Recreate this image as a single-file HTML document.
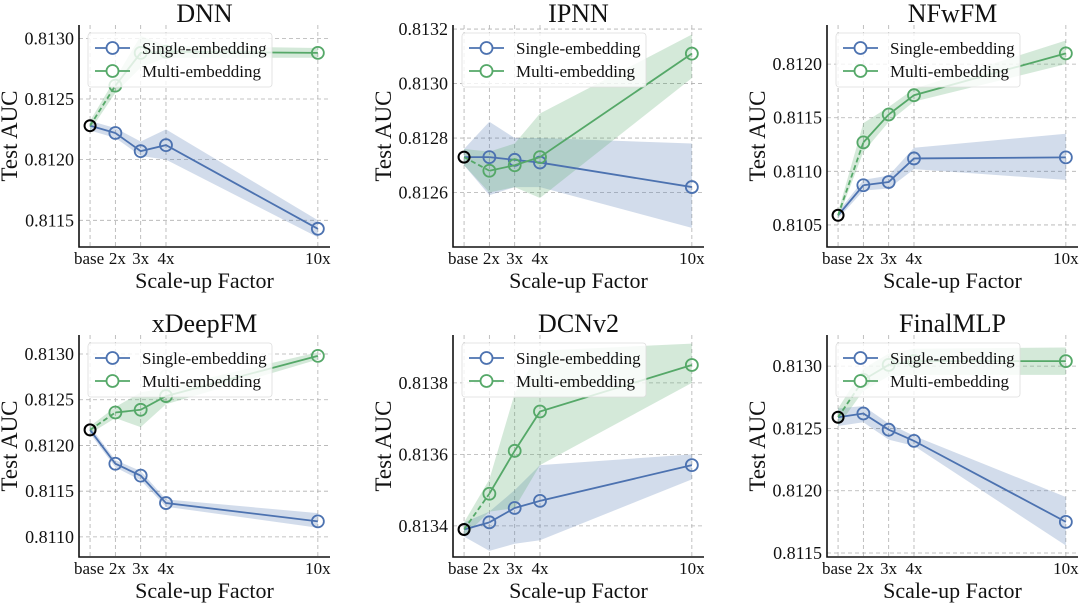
<!DOCTYPE html>
<html><head><meta charset="utf-8"><style>
body{margin:0;background:#fff}
svg text{font-family:"Liberation Serif",serif;fill:#111}
</style></head><body>
<svg id="c" width="1080" height="605" xmlns="http://www.w3.org/2000/svg"></svg>
<script>
const categories=["base","2x","3x","4x","10x"];
const xValues=[1,2,3,4,10];
const titles=["DNN","IPNN","NFwFM","xDeepFM","DCNv2","FinalMLP"];
const singleDNN=[0.81228,0.81222,0.81207,0.81212,0.81143];
const singleDNNLo=[0.81224,0.81218,0.81203,0.81200,0.81136];
const singleDNNHi=[0.81232,0.81226,0.81215,0.81225,0.81150];
const multiDNN=[0.81228,0.81261,0.81288,0.81289,0.81288];
const multiDNNLo=[0.81224,0.81255,0.81276,0.81284,0.81284];
const multiDNNHi=[0.81232,0.81267,0.81302,0.81294,0.81292];
const singleIPNN=[0.81273,0.81273,0.81272,0.81271,0.81262];
const singleIPNNLo=[0.81270,0.81259,0.81262,0.81262,0.81247];
const singleIPNNHi=[0.81276,0.81286,0.81280,0.81280,0.81278];
const multiIPNN=[0.81273,0.81268,0.81270,0.81273,0.81311];
const multiIPNNLo=[0.81270,0.81260,0.81262,0.81258,0.81302];
const multiIPNNHi=[0.81276,0.81275,0.81278,0.81289,0.81318];
const singleNFwFM=[0.81059,0.81087,0.81090,0.81112,0.81113];
const singleNFwFMLo=[0.81056,0.81082,0.81084,0.81102,0.81092];
const singleNFwFMHi=[0.81062,0.81092,0.81096,0.81122,0.81135];
const multiNFwFM=[0.81059,0.81127,0.81153,0.81171,0.81210];
const multiNFwFMLo=[0.81056,0.81118,0.81146,0.81165,0.81200];
const multiNFwFMHi=[0.81062,0.81145,0.81160,0.81177,0.81222];
const singleXDeepFM=[0.81217,0.81180,0.81167,0.81137,0.81117];
const singleXDeepFMLo=[0.81213,0.81176,0.81162,0.81133,0.81110];
const singleXDeepFMHi=[0.81221,0.81184,0.81172,0.81141,0.81126];
const multiXDeepFM=[0.81217,0.81236,0.81239,0.81254,0.81298];
const multiXDeepFMLo=[0.81213,0.81230,0.81220,0.81245,0.81294];
const multiXDeepFMHi=[0.81221,0.81242,0.81258,0.81263,0.81302];
const singleDCNv2=[0.81339,0.81341,0.81345,0.81347,0.81357];
const singleDCNv2Lo=[0.81337,0.81333,0.81335,0.81336,0.81353];
const singleDCNv2Hi=[0.81341,0.81344,0.81350,0.81357,0.81360];
const multiDCNv2=[0.81339,0.81349,0.81361,0.81372,0.81385];
const multiDCNv2Lo=[0.81337,0.81344,0.81345,0.81357,0.81380];
const multiDCNv2Hi=[0.81341,0.81353,0.81377,0.81389,0.81391];
const singleFinalMLP=[0.81259,0.81262,0.81249,0.81240,0.81175];
const singleFinalMLPLo=[0.81252,0.81255,0.81241,0.81236,0.81156];
const singleFinalMLPHi=[0.81266,0.81268,0.81254,0.81244,0.81195];
const multiFinalMLP=[0.81259,0.81289,0.81301,0.81304,0.81304];
const multiFinalMLPLo=[0.81252,0.81280,0.81292,0.81293,0.81293];
const multiFinalMLPHi=[0.81266,0.81298,0.81310,0.81314,0.81315];
const ticksDNN=[0.8115,0.8120,0.8125,0.8130];
const ticksIPNN=[0.8126,0.8128,0.8130,0.8132];
const ticksNFwFM=[0.8105,0.8110,0.8115,0.8120];
const ticksXDeepFM=[0.8110,0.8115,0.8120,0.8125,0.8130];
const ticksDCNv2=[0.8134,0.8136,0.8138];
const ticksFinalMLP=[0.8115,0.8120,0.8125,0.8130];
const ylims=[[0.81128,0.81311],[0.81240,0.813215],[0.810294,0.812365],[0.81078,0.813208],[0.813313,0.813934],[0.811468,0.81325]];

const panels=[
 [singleDNN,singleDNNLo,singleDNNHi,multiDNN,multiDNNLo,multiDNNHi,ticksDNN],
 [singleIPNN,singleIPNNLo,singleIPNNHi,multiIPNN,multiIPNNLo,multiIPNNHi,ticksIPNN],
 [singleNFwFM,singleNFwFMLo,singleNFwFMHi,multiNFwFM,multiNFwFMLo,multiNFwFMHi,ticksNFwFM],
 [singleXDeepFM,singleXDeepFMLo,singleXDeepFMHi,multiXDeepFM,multiXDeepFMLo,multiXDeepFMHi,ticksXDeepFM],
 [singleDCNv2,singleDCNv2Lo,singleDCNv2Hi,multiDCNv2,multiDCNv2Lo,multiDCNv2Hi,ticksDCNv2],
 [singleFinalMLP,singleFinalMLPLo,singleFinalMLPHi,multiFinalMLP,multiFinalMLPLo,multiFinalMLPHi,ticksFinalMLP]
];
const svg=document.getElementById('c');
const NS='http://www.w3.org/2000/svg';
function mk(tag,attrs,parent,text){const e=document.createElementNS(NS,tag);for(const k in attrs)e.setAttribute(k,attrs[k]);if(text!==undefined)e.textContent=text;parent.appendChild(e);return e;}
const BLUE='#4c72b0',GREEN='#55a868';
const spineX=[79,453,827];
const rowTop=[25,335],rowBot=[247,557];
panels.forEach((p,i)=>{
 const col=i%3,row=Math.floor(i/3);
 const L=spineX[col],T=rowTop[row],B=rowBot[row],R=L+251;
 const xmin=0.563,xmax=10.48;
 const xs=v=>L+(v-xmin)/(xmax-xmin)*(R-L);
 const [ylo,yhi]=ylims[i];
 const ys=v=>B-(v-ylo)/(yhi-ylo)*(B-T);
 const g=mk('g',{},svg);
 
 
 xValues.forEach((v,k)=>{
  const l=mk('line',{x1:xs(v),x2:xs(v),y1:T,y2:B,stroke:'#b0b0b0','stroke-dasharray':'4,3','stroke-width':0.8},g);
  
  const t=mk('text',{x:xs(v)+(k===0?-1:(k===1?2:0)),y:B+17,'text-anchor':'middle','font-size':17},g,categories[k]);
  
 });
 p[6].forEach(v=>{
  const l=mk('line',{x1:L,x2:R,y1:ys(v),y2:ys(v),stroke:'#b0b0b0','stroke-dasharray':'4,3','stroke-width':0.8},g);
  
  const t=mk('text',{x:L-5,y:ys(v)+6,'text-anchor':'end','font-size':18},g,v.toFixed(4));
  
 });
 [[0,1,2,BLUE,'single'],[3,4,5,GREEN,'multi']].forEach(([a,lo,hi,c,nm])=>{
  let d='';
  xValues.forEach((v,k)=>{d+=(k?'L':'M')+xs(v)+','+ys(p[hi][k]);});
  for(let k=xValues.length-1;k>=0;k--)d+='L'+xs(xValues[k])+','+ys(p[lo][k]);
  const band=mk('path',{d:d+'Z',fill:c,'fill-opacity':0.25,stroke:'none'},g);
  
 });
 [[0,BLUE,'single'],[3,GREEN,'multi']].forEach(([a,c,nm])=>{
  const s=p[a];
  const first=mk('line',{x1:xs(xValues[0]),y1:ys(s[0]),x2:xs(xValues[1]),y2:ys(s[1]),stroke:c,'stroke-width':1.8,'stroke-dasharray':nm==='multi'?'5,3':'none'},g);
  
  let d='';
  for(let k=1;k<xValues.length;k++)d+=(k>1?'L':'M')+xs(xValues[k])+','+ys(s[k]);
  const ln=mk('path',{d:d,fill:'none',stroke:c,'stroke-width':1.8},g);
  
  for(let k=1;k<xValues.length;k++){
   const m=mk('circle',{cx:xs(xValues[k]),cy:ys(s[k]),r:6,fill:'none',stroke:c,'stroke-width':1.8},g);
   
  }
 });
 const bm=mk('circle',{cx:xs(xValues[0]),cy:ys(p[0][0]),r:5.5,fill:'none',stroke:'#000','stroke-width':2},g);
 
 const sp=mk('path',{d:`M${L},${T}V${B}H${R}`,fill:'none',stroke:'#111','stroke-width':1.6},g);
 
 const lg=mk('g',{},g);
 
 mk('rect',{x:L+9,y:T+8,width:184,height:54,rx:3,fill:'#fff','fill-opacity':0.8,stroke:'#ddd','stroke-width':0.8},lg);
 [['Single-embedding',BLUE],['Multi-embedding',GREEN]].forEach(([lab,c],k)=>{
  const y=T+23+k*23;
  const e=mk('g',{},lg);
  
  mk('line',{x1:L+16,x2:L+51,y1:y,y2:y,stroke:c,'stroke-width':1.8},e);
  mk('circle',{cx:L+33.5,cy:y,r:6,fill:'#fff',stroke:c,'stroke-width':1.8},e);
  mk('text',{x:L+63,y:y+6,'font-size':17},e,lab);
 });
 const tt=mk('text',{x:(L+R)/2,y:T-3,'text-anchor':'middle','font-size':26},g,titles[i]);
 
 const xl=mk('text',{x:(L+R)/2,y:B+41,'text-anchor':'middle','font-size':22},g,'Scale-up Factor');
 
 const cy=(T+B)/2;
 const yl=mk('text',{x:L-62,y:cy,'text-anchor':'middle','font-size':23,transform:`rotate(-90 ${L-62} ${cy})`},g,'Test AUC');
 
});
</script>
</body></html>
